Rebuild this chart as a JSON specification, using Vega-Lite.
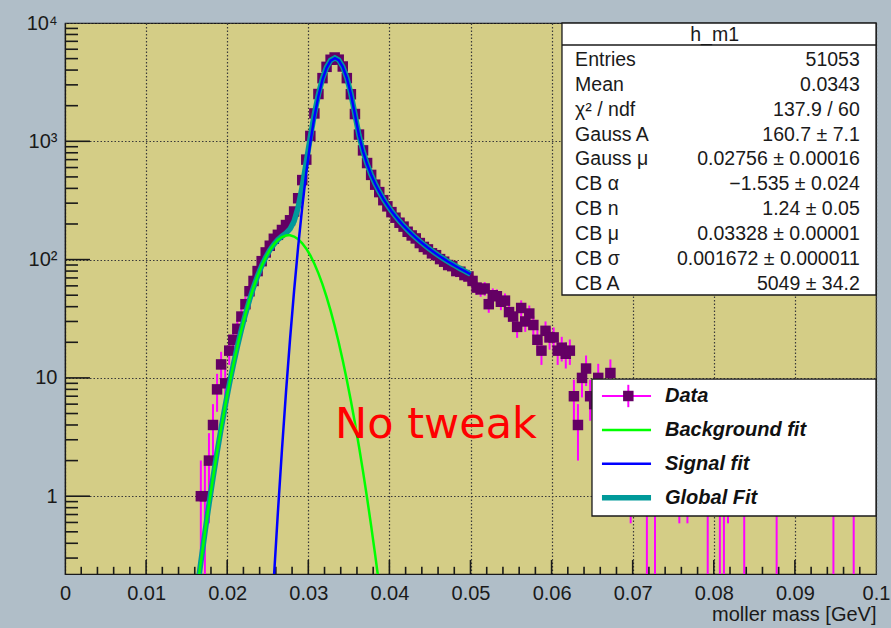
{
  "$schema": "https://vega.github.io/schema/vega-lite/v6.json",
  "width": 811,
  "height": 551,
  "autosize": {"type": "none"},
  "padding": {"left": 65, "top": 23, "right": 15, "bottom": 54},
  "background": "#b0bec8",
  "config": {
    "view": {"fill": "#d4cd86", "stroke": "#1a1a1a", "strokeWidth": 1.2},
    "font": "Liberation Sans"
  },
  "datasets": {
    "hist": [
      {"x":0.01675,"n":1,"lo":0.001,"hi":2},{"x":0.01725,"n":1,"lo":0.001,"hi":2},{"x":0.01775,"n":2,"lo":0.59,"hi":3.41},
      {"x":0.01825,"n":4,"lo":2,"hi":6},{"x":0.01875,"n":8,"lo":5.17,"hi":10.83},{"x":0.01925,"n":13,"lo":9.39,"hi":16.61},
      {"x":0.01975,"n":9,"lo":6,"hi":12},{"x":0.02025,"n":17,"lo":12.88,"hi":21.12},{"x":0.02075,"n":21,"lo":16.42,"hi":25.58},
      {"x":0.02125,"n":26,"lo":20.9,"hi":31.1},{"x":0.02175,"n":33,"lo":27.26,"hi":38.74},{"x":0.02225,"n":42,"lo":35.52,"hi":48.48},
      {"x":0.02275,"n":54,"lo":46.65,"hi":61.35},{"x":0.02325,"n":66,"lo":57.88,"hi":74.12},{"x":0.02375,"n":80,"lo":71.06,"hi":88.94},
      {"x":0.02425,"n":97,"lo":87.15,"hi":106.85},{"x":0.02475,"n":115,"lo":104.28,"hi":125.72},{"x":0.02525,"n":131,"lo":119.55,"hi":142.45},
      {"x":0.02575,"n":150,"lo":137.75,"hi":162.25},{"x":0.02625,"n":162,"lo":149.27,"hi":174.73},{"x":0.02675,"n":178,"lo":164.66,"hi":191.34},
      {"x":0.02725,"n":196,"lo":182,"hi":210},{"x":0.02775,"n":215,"lo":200.34,"hi":229.66},{"x":0.02825,"n":255,"lo":239.03,"hi":270.97},
      {"x":0.02875,"n":330,"lo":311.83,"hi":348.17},{"x":0.02925,"n":470,"lo":448.32,"hi":491.68},{"x":0.02975,"n":700,"lo":673.54,"hi":726.46},
      {"x":0.03025,"n":1110,"lo":1076.7,"hi":1143.3},{"x":0.03075,"n":1720,"lo":1678.5,"hi":1761.5},{"x":0.03125,"n":2510,"lo":2459.9,"hi":2560.1},
      {"x":0.03175,"n":3420,"lo":3361.5,"hi":3478.5},{"x":0.03225,"n":4260,"lo":4194.7,"hi":4325.3},{"x":0.03275,"n":4890,"lo":4820.1,"hi":4959.9},
      {"x":0.03325,"n":5110,"lo":5038.5,"hi":5181.5},{"x":0.03375,"n":4900,"lo":4830,"hi":4970},{"x":0.03425,"n":4290,"lo":4224.5,"hi":4355.5},
      {"x":0.03475,"n":3420,"lo":3361.5,"hi":3478.5},{"x":0.03525,"n":2500,"lo":2450,"hi":2550},{"x":0.03575,"n":1700,"lo":1658.8,"hi":1741.2},
      {"x":0.03625,"n":1140,"lo":1106.2,"hi":1173.8},{"x":0.03675,"n":838,"lo":809.05,"hi":866.95},{"x":0.03725,"n":655,"lo":629.41,"hi":680.59},
      {"x":0.03775,"n":520,"lo":497.2,"hi":542.8},{"x":0.03825,"n":430,"lo":409.26,"hi":450.74},{"x":0.03875,"n":372,"lo":352.71,"hi":391.29},
      {"x":0.03925,"n":318,"lo":300.17,"hi":335.83},{"x":0.03975,"n":282,"lo":265.21,"hi":298.79},{"x":0.04025,"n":252,"lo":236.13,"hi":267.87},
      {"x":0.04075,"n":226,"lo":210.97,"hi":241.03},{"x":0.04125,"n":205,"lo":190.68,"hi":219.32},{"x":0.04175,"n":190,"lo":176.22,"hi":203.78},
      {"x":0.04225,"n":172,"lo":158.89,"hi":185.11},{"x":0.04275,"n":160,"lo":147.35,"hi":172.65},{"x":0.04325,"n":151,"lo":138.71,"hi":163.29},
      {"x":0.04375,"n":138,"lo":126.25,"hi":149.75},{"x":0.04425,"n":128,"lo":116.69,"hi":139.31},{"x":0.04475,"n":122,"lo":110.95,"hi":133.05},
      {"x":0.04525,"n":113,"lo":102.37,"hi":123.63},{"x":0.04575,"n":109,"lo":98.56,"hi":119.44},{"x":0.04625,"n":101,"lo":90.95,"hi":111.05},
      {"x":0.04675,"n":96,"lo":86.2,"hi":105.8},{"x":0.04725,"n":90,"lo":80.51,"hi":99.49},{"x":0.04775,"n":88,"lo":78.62,"hi":97.38},
      {"x":0.04825,"n":80,"lo":71.06,"hi":88.94},{"x":0.04875,"n":79,"lo":70.11,"hi":87.89},{"x":0.04925,"n":74,"lo":65.4,"hi":82.6},
      {"x":0.04975,"n":72,"lo":63.51,"hi":80.49},{"x":0.05025,"n":66,"lo":57.88,"hi":74.12},{"x":0.05075,"n":58,"lo":50.38,"hi":65.62},
      {"x":0.05125,"n":56,"lo":48.52,"hi":63.48},{"x":0.05175,"n":57,"lo":49.45,"hi":64.55},{"x":0.05225,"n":42,"lo":35.52,"hi":48.48},
      {"x":0.05275,"n":50,"lo":42.93,"hi":57.07},{"x":0.05325,"n":49,"lo":42,"hi":56},{"x":0.05375,"n":44,"lo":37.37,"hi":50.63},
      {"x":0.05425,"n":45,"lo":38.29,"hi":51.71},{"x":0.05475,"n":36,"lo":30,"hi":42},{"x":0.05525,"n":33,"lo":27.26,"hi":38.74},
      {"x":0.05575,"n":27,"lo":21.8,"hi":32.2},{"x":0.05625,"n":39,"lo":32.76,"hi":45.24},{"x":0.05675,"n":30,"lo":24.52,"hi":35.48},
      {"x":0.05725,"n":35,"lo":29.08,"hi":40.92},{"x":0.05775,"n":28,"lo":22.71,"hi":33.29},{"x":0.05825,"n":21,"lo":16.42,"hi":25.58},
      {"x":0.05875,"n":17,"lo":12.88,"hi":21.12},{"x":0.05925,"n":25,"lo":20,"hi":30},{"x":0.05975,"n":22,"lo":17.31,"hi":26.69},
      {"x":0.06025,"n":22,"lo":17.31,"hi":26.69},{"x":0.06075,"n":17,"lo":12.88,"hi":21.12},{"x":0.06125,"n":18,"lo":13.76,"hi":22.24},
      {"x":0.06175,"n":16,"lo":12,"hi":20},{"x":0.06225,"n":17,"lo":12.88,"hi":21.12},{"x":0.06275,"n":7,"lo":4.35,"hi":9.65},
      {"x":0.06325,"n":4,"lo":2,"hi":6},{"x":0.06375,"n":10,"lo":6.84,"hi":13.16},{"x":0.06425,"n":12,"lo":8.54,"hi":15.46},
      {"x":0.06475,"n":7,"lo":4.35,"hi":9.65},{"x":0.06525,"n":6,"lo":3.55,"hi":8.45},{"x":0.06575,"n":10,"lo":6.84,"hi":13.16},
      {"x":0.06625,"n":6,"lo":3.55,"hi":8.45},{"x":0.06675,"n":5,"lo":2.76,"hi":7.24},{"x":0.06725,"n":11,"lo":7.68,"hi":14.32},
      {"x":0.06775,"n":4,"lo":2,"hi":6},{"x":0.06825,"n":3,"lo":1.27,"hi":4.73},{"x":0.06875,"n":5,"lo":2.76,"hi":7.24},
      {"x":0.06925,"n":7,"lo":4.35,"hi":9.65},{"x":0.06975,"n":2,"lo":0.59,"hi":3.41},{"x":0.07175,"n":1,"lo":0.001,"hi":2},
      {"x":0.07275,"n":1,"lo":0.001,"hi":2},{"x":0.07575,"n":2,"lo":0.59,"hi":3.41},{"x":0.07675,"n":2,"lo":0.59,"hi":3.41},
      {"x":0.07925,"n":1,"lo":0.001,"hi":2},{"x":0.08075,"n":1,"lo":0.001,"hi":2},{"x":0.08125,"n":1,"lo":0.001,"hi":2},
      {"x":0.08175,"n":2,"lo":0.59,"hi":3.41},{"x":0.08375,"n":1,"lo":0.001,"hi":2},{"x":0.08775,"n":1,"lo":0.001,"hi":2},
      {"x":0.09475,"n":1,"lo":0.001,"hi":2},{"x":0.09725,"n":1,"lo":0.001,"hi":2}
    ],
    "bkg": [
      {"x":0.01625,"y":0.152},{"x":0.01675,"y":0.277},{"x":0.01725,"y":0.491},{"x":0.01775,"y":0.85},{"x":0.01825,"y":1.431},
      {"x":0.01875,"y":2.343},{"x":0.01925,"y":3.738},{"x":0.01975,"y":5.797},{"x":0.02025,"y":8.744},{"x":0.02075,"y":12.85},
      {"x":0.02125,"y":18.37},{"x":0.02175,"y":25.55},{"x":0.02225,"y":34.59},{"x":0.02275,"y":45.57},{"x":0.02325,"y":58.41},
      {"x":0.02375,"y":72.89},{"x":0.02425,"y":88.5},{"x":0.02475,"y":104.5},{"x":0.02525,"y":120.2},{"x":0.02575,"y":134.4},
      {"x":0.02625,"y":146.4},{"x":0.02675,"y":155.1},{"x":0.02725,"y":159.9},{"x":0.02756,"y":160.7},{"x":0.02775,"y":160.4},
      {"x":0.02825,"y":156.6},{"x":0.02875,"y":148.8},{"x":0.02925,"y":137.5},{"x":0.02975,"y":123.8},{"x":0.03025,"y":108.4},
      {"x":0.03075,"y":92.3},{"x":0.03125,"y":76.5},{"x":0.03175,"y":61.8},{"x":0.03225,"y":48.5},{"x":0.03275,"y":37.06},
      {"x":0.03325,"y":27.56},{"x":0.03375,"y":19.94},{"x":0.03425,"y":14.04},{"x":0.03475,"y":9.61},{"x":0.03525,"y":6.41},
      {"x":0.03575,"y":4.164},{"x":0.03625,"y":2.629},{"x":0.03675,"y":1.615},{"x":0.03725,"y":0.966},{"x":0.03775,"y":0.562},
      {"x":0.03825,"y":0.318},{"x":0.03875,"y":0.175}
    ],
    "sig": [
      {"x":0.02525,"y":0.0495},{"x":0.02575,"y":0.199},{"x":0.02625,"y":0.73},{"x":0.02675,"y":2.46},{"x":0.02725,"y":7.57},
      {"x":0.02775,"y":21.27},{"x":0.02825,"y":54.7},{"x":0.02875,"y":128.6},{"x":0.02925,"y":276.5},{"x":0.02975,"y":543.6},
      {"x":0.03025,"y":977.5},{"x":0.03075,"y":1607},{"x":0.03125,"y":2416},{"x":0.03175,"y":3322},{"x":0.03225,"y":4176},
      {"x":0.03275,"y":4802},{"x":0.03328,"y":5049},{"x":0.03375,"y":4853},{"x":0.03425,"y":4267},{"x":0.03475,"y":3430},
      {"x":0.03525,"y":2522},{"x":0.03575,"y":1696},{"x":0.03585,"y":1554},{"x":0.03625,"y":1124},{"x":0.03675,"y":823.6},
      {"x":0.03725,"y":642.4},{"x":0.03775,"y":522.4},{"x":0.03825,"y":437.6},{"x":0.03875,"y":374.7},{"x":0.03925,"y":326.5},
      {"x":0.03975,"y":288.5},{"x":0.04025,"y":257.7},{"x":0.04075,"y":232.4},{"x":0.04125,"y":211.3},{"x":0.04175,"y":193.4},
      {"x":0.04225,"y":178},{"x":0.04275,"y":164.7},{"x":0.04325,"y":153.2},{"x":0.04375,"y":142.9},{"x":0.04425,"y":134},
      {"x":0.04475,"y":125.9},{"x":0.04525,"y":118.7},{"x":0.04575,"y":112.2},{"x":0.04625,"y":106.3},{"x":0.04675,"y":100.9},
      {"x":0.04725,"y":96},{"x":0.04775,"y":91.6},{"x":0.04825,"y":87.5},{"x":0.04875,"y":83.7},{"x":0.04925,"y":80.2},
      {"x":0.04975,"y":76.9},{"x":0.05,"y":75.4}
    ],
    "glob": [
      {"x":0.01625,"y":0.152},{"x":0.01675,"y":0.277},{"x":0.01725,"y":0.491},{"x":0.01775,"y":0.85},{"x":0.01825,"y":1.431},
      {"x":0.01875,"y":2.343},{"x":0.01925,"y":3.738},{"x":0.01975,"y":5.797},{"x":0.02025,"y":8.744},{"x":0.02075,"y":12.85},
      {"x":0.02125,"y":18.37},{"x":0.02175,"y":25.55},{"x":0.02225,"y":34.59},{"x":0.02275,"y":45.57},{"x":0.02325,"y":58.41},
      {"x":0.02375,"y":72.89},{"x":0.02425,"y":88.5},{"x":0.02475,"y":104.5},{"x":0.02525,"y":120.2},{"x":0.02575,"y":134.6},
      {"x":0.02625,"y":147.1},{"x":0.02675,"y":157.6},{"x":0.02725,"y":167.5},{"x":0.02775,"y":181.7},{"x":0.02825,"y":211.3},
      {"x":0.02875,"y":277.4},{"x":0.02925,"y":414},{"x":0.02975,"y":667.4},{"x":0.03025,"y":1086},{"x":0.03075,"y":1699},
      {"x":0.03125,"y":2492},{"x":0.03175,"y":3384},{"x":0.03225,"y":4225},{"x":0.03275,"y":4839},{"x":0.03328,"y":5075},
      {"x":0.03375,"y":4873},{"x":0.03425,"y":4281},{"x":0.03475,"y":3440},{"x":0.03525,"y":2528},{"x":0.03575,"y":1700},
      {"x":0.03585,"y":1558},{"x":0.03625,"y":1127},{"x":0.03675,"y":825.2},{"x":0.03725,"y":643.4},{"x":0.03775,"y":523},
      {"x":0.03825,"y":437.9},{"x":0.03875,"y":374.9},{"x":0.03925,"y":326.6},{"x":0.03975,"y":288.5},{"x":0.04025,"y":257.7},
      {"x":0.04075,"y":232.4},{"x":0.04125,"y":211.3},{"x":0.04175,"y":193.4},{"x":0.04225,"y":178},{"x":0.04275,"y":164.7},
      {"x":0.04325,"y":153.2},{"x":0.04375,"y":142.9},{"x":0.04425,"y":134},{"x":0.04475,"y":125.9},{"x":0.04525,"y":118.7},
      {"x":0.04575,"y":112.2},{"x":0.04625,"y":106.3},{"x":0.04675,"y":100.9},{"x":0.04725,"y":96},{"x":0.04775,"y":91.6},
      {"x":0.04825,"y":87.5},{"x":0.04875,"y":83.7},{"x":0.04925,"y":80.2},{"x":0.04975,"y":76.9},{"x":0.05,"y":75.4}
    ],
    "xticks": [
      {"v":0.01,"major":1},{"v":0.02,"major":1},{"v":0.03,"major":1},{"v":0.04,"major":1},{"v":0.05,"major":1},
      {"v":0.06,"major":1},{"v":0.07,"major":1},{"v":0.08,"major":1},{"v":0.09,"major":1},
      {"v":0.002,"major":0},{"v":0.004,"major":0},{"v":0.006,"major":0},{"v":0.008,"major":0},
      {"v":0.012,"major":0},{"v":0.014,"major":0},{"v":0.016,"major":0},{"v":0.018,"major":0},
      {"v":0.022,"major":0},{"v":0.024,"major":0},{"v":0.026,"major":0},{"v":0.028,"major":0},
      {"v":0.032,"major":0},{"v":0.034,"major":0},{"v":0.036,"major":0},{"v":0.038,"major":0},
      {"v":0.042,"major":0},{"v":0.044,"major":0},{"v":0.046,"major":0},{"v":0.048,"major":0},
      {"v":0.052,"major":0},{"v":0.054,"major":0},{"v":0.056,"major":0},{"v":0.058,"major":0},
      {"v":0.062,"major":0},{"v":0.064,"major":0},{"v":0.066,"major":0},{"v":0.068,"major":0},
      {"v":0.072,"major":0},{"v":0.074,"major":0},{"v":0.076,"major":0},{"v":0.078,"major":0},
      {"v":0.082,"major":0},{"v":0.084,"major":0},{"v":0.086,"major":0},{"v":0.088,"major":0},
      {"v":0.092,"major":0},{"v":0.094,"major":0},{"v":0.096,"major":0},{"v":0.098,"major":0}
    ],
    "yticks": [
      {"v":1,"major":1},{"v":10,"major":1},{"v":100,"major":1},{"v":1000,"major":1},
      {"v":0.3,"major":0},{"v":0.4,"major":0},{"v":0.5,"major":0},{"v":0.6,"major":0},{"v":0.7,"major":0},{"v":0.8,"major":0},{"v":0.9,"major":0},
      {"v":2,"major":0},{"v":3,"major":0},{"v":4,"major":0},{"v":5,"major":0},{"v":6,"major":0},{"v":7,"major":0},{"v":8,"major":0},{"v":9,"major":0},
      {"v":20,"major":0},{"v":30,"major":0},{"v":40,"major":0},{"v":50,"major":0},{"v":60,"major":0},{"v":70,"major":0},{"v":80,"major":0},{"v":90,"major":0},
      {"v":200,"major":0},{"v":300,"major":0},{"v":400,"major":0},{"v":500,"major":0},{"v":600,"major":0},{"v":700,"major":0},{"v":800,"major":0},{"v":900,"major":0},
      {"v":2000,"major":0},{"v":3000,"major":0},{"v":4000,"major":0},{"v":5000,"major":0},{"v":6000,"major":0},{"v":7000,"major":0},{"v":8000,"major":0},{"v":9000,"major":0}
    ],
    "stats": [
      {"row":0,"label":"h_m1","value":""},
      {"row":1,"label":"Entries","value":"51053"},
      {"row":2,"label":"Mean","value":"0.0343"},
      {"row":3,"label":"χ² / ndf","value":"137.9 / 60"},
      {"row":4,"label":"Gauss A","value":"160.7 ± 7.1"},
      {"row":5,"label":"Gauss μ","value":"0.02756 ± 0.00016"},
      {"row":6,"label":"CB α","value":"−1.535 ± 0.024"},
      {"row":7,"label":"CB n","value":"1.24 ± 0.05"},
      {"row":8,"label":"CB μ","value":"0.03328 ± 0.00001"},
      {"row":9,"label":"CB σ","value":"0.001672 ± 0.000011"},
      {"row":10,"label":"CB A","value":"5049 ± 34.2"}
    ],
    "legend": [
      {"row":0,"label":"Data"},
      {"row":1,"label":"Background fit"},
      {"row":2,"label":"Signal fit"},
      {"row":3,"label":"Global Fit"}
    ]
  },
  "layer": [
    {
      "layer": [
        {
          "data": {"name": "hist"},
          "mark": {"type": "rule", "color": "#ff00ff", "strokeWidth": 2, "clip": true},
          "encoding": {
            "x": {
              "field": "x", "type": "quantitative",
              "scale": {"domain": [0, 0.1], "nice": false, "zero": false},
              "axis": {
                "values": [0, 0.01, 0.02, 0.03, 0.04, 0.05, 0.06, 0.07, 0.08, 0.09, 0.1],
                "format": "~g",
                "ticks": false,
                "domainColor": "#1a1a1a", "domainWidth": 1.2,
                "labelPadding": 9.5, "labelFontSize": 20, "labelColor": "#1a1a1a",
                "labelFlush": false, "labelOverlap": false,
                "grid": true, "gridDash": [1.5, 2], "gridColor": "#3a3a3a", "gridWidth": 1.2,
                "title": "moller mass [GeV]", "titleFontSize": 20, "titleFontWeight": "normal",
                "titleColor": "#1a1a1a", "titleAnchor": "end", "titleAlign": "right",
                "titleBaseline": "alphabetic", "titleY": 46
              }
            },
            "y": {
              "field": "lo", "type": "quantitative",
              "scale": {"type": "log", "domain": [0.22, 10000], "nice": false},
              "axis": {
                "values": [1, 10, 100, 1000, 10000],
                "labelExpr": "datum.value >= 9999 ? '10⁴' : datum.value >= 999 ? '10³' : datum.value >= 99 ? '10²' : datum.value >= 9 ? '10' : '1'",
                "ticks": false,
                "domainColor": "#1a1a1a", "domainWidth": 1.2,
                "labelPadding": 8, "labelFontSize": 20, "labelColor": "#1a1a1a",
                "labelOverlap": false, "labelFlush": false,
                "grid": true, "gridDash": [1.5, 2], "gridColor": "#3a3a3a", "gridWidth": 1.2,
                "title": null
              }
            },
            "y2": {"field": "hi"}
          }
        },
        {
          "data": {"name": "xticks"},
          "transform": [{"filter": "datum.major == 1"}],
          "mark": {"type": "rule", "color": "#1a1a1a", "strokeWidth": 1.6},
          "encoding": {
            "x": {"field": "v", "type": "quantitative"},
            "y": {"datum": 0.22, "type": "quantitative"},
            "y2": {"datum": 0.289}
          }
        },
        {
          "data": {"name": "xticks"},
          "transform": [{"filter": "datum.major == 0"}],
          "mark": {"type": "rule", "color": "#1a1a1a", "strokeWidth": 1.6},
          "encoding": {
            "x": {"field": "v", "type": "quantitative"},
            "y": {"datum": 0.22, "type": "quantitative"},
            "y2": {"datum": 0.253}
          }
        },
        {
          "data": {"name": "yticks"},
          "transform": [{"filter": "datum.major == 1"}],
          "mark": {"type": "rule", "color": "#1a1a1a", "strokeWidth": 1.6},
          "encoding": {
            "y": {"field": "v", "type": "quantitative"},
            "x": {"datum": 0, "type": "quantitative"},
            "x2": {"datum": 0.00308}
          }
        },
        {
          "data": {"name": "yticks"},
          "transform": [{"filter": "datum.major == 0"}],
          "mark": {"type": "rule", "color": "#1a1a1a", "strokeWidth": 1.6},
          "encoding": {
            "y": {"field": "v", "type": "quantitative"},
            "x": {"datum": 0, "type": "quantitative"},
            "x2": {"datum": 0.0016}
          }
        },
        {
          "data": {"name": "hist"},
          "mark": {"type": "point", "shape": "square", "filled": true, "size": 110, "color": "#640064", "opacity": 1},
          "encoding": {
            "x": {"field": "x", "type": "quantitative"},
            "y": {"field": "n", "type": "quantitative"}
          }
        },
        {
          "data": {"name": "glob"},
          "mark": {"type": "line", "color": "#009a9a", "strokeWidth": 5.5, "clip": true},
          "encoding": {
            "x": {"field": "x", "type": "quantitative"},
            "y": {"field": "y", "type": "quantitative"}
          }
        },
        {
          "data": {"name": "bkg"},
          "mark": {"type": "line", "color": "#00ff00", "strokeWidth": 2.5, "clip": true},
          "encoding": {
            "x": {"field": "x", "type": "quantitative"},
            "y": {"field": "y", "type": "quantitative"}
          }
        },
        {
          "data": {"name": "sig"},
          "mark": {"type": "line", "color": "#0000ff", "strokeWidth": 2.5, "clip": true},
          "encoding": {
            "x": {"field": "x", "type": "quantitative"},
            "y": {"field": "y", "type": "quantitative"}
          }
        },
        {
          "data": {"values": [{"note": "No tweak"}]},
          "mark": {"type": "text", "font": "DejaVu Sans", "fontSize": 43, "color": "#ff0000", "align": "center", "baseline": "middle"},
          "encoding": {
            "x": {"datum": 0.04575, "type": "quantitative"},
            "y": {"datum": 4, "type": "quantitative"},
            "text": {"field": "note"}
          }
        }
      ]
    },
    {
      "data": {"name": "stats"},
      "layer": [
        {
          "transform": [{"filter": "datum.row == 0"}],
          "mark": {"type": "rect", "fill": "#ffffff", "stroke": "#1a1a1a", "strokeWidth": 1.3},
          "encoding": {
            "x": {"datum": 0.06128, "type": "quantitative", "scale": {"domain": [0, 0.1], "nice": false, "zero": false}, "axis": null},
            "x2": {"datum": 0.1},
            "y": {"datum": -0.482, "type": "quantitative", "scale": {"domain": [-0.482, 21.647], "reverse": true, "nice": false, "zero": false}, "axis": null},
            "y2": {"datum": 10.442}
          }
        },
        {
          "transform": [{"filter": "datum.row == 0"}],
          "mark": {"type": "rule", "color": "#1a1a1a", "strokeWidth": 1.3},
          "encoding": {
            "x": {"datum": 0.06128, "type": "quantitative"},
            "x2": {"datum": 0.1},
            "y": {"datum": 0.402, "type": "quantitative"}
          }
        },
        {
          "transform": [{"filter": "datum.row == 0"}],
          "mark": {"type": "text", "align": "center", "baseline": "middle", "fontSize": 19.5, "color": "#1a1a1a"},
          "encoding": {
            "x": {"datum": 0.0801, "type": "quantitative"},
            "y": {"field": "row", "type": "quantitative"},
            "text": {"field": "label"}
          }
        },
        {
          "transform": [{"filter": "datum.row > 0"}],
          "mark": {"type": "text", "align": "left", "baseline": "middle", "fontSize": 19.5, "color": "#1a1a1a"},
          "encoding": {
            "x": {"datum": 0.0629, "type": "quantitative"},
            "y": {"field": "row", "type": "quantitative"},
            "text": {"field": "label"}
          }
        },
        {
          "transform": [{"filter": "datum.row > 0"}],
          "mark": {"type": "text", "align": "right", "baseline": "middle", "fontSize": 19.5, "color": "#1a1a1a"},
          "encoding": {
            "x": {"datum": 0.0980, "type": "quantitative"},
            "y": {"field": "row", "type": "quantitative"},
            "text": {"field": "value"}
          }
        }
      ]
    },
    {
      "data": {"name": "legend"},
      "layer": [
        {
          "transform": [{"filter": "datum.row == 0"}],
          "mark": {"type": "rect", "fill": "#ffffff", "stroke": "#1a1a1a", "strokeWidth": 1.3},
          "encoding": {
            "x": {"datum": 0.06498, "type": "quantitative", "scale": {"domain": [0, 0.1], "nice": false, "zero": false}, "axis": null},
            "x2": {"datum": 0.1},
            "y": {"datum": -0.5, "type": "quantitative", "scale": {"domain": [-11.003, 5.251], "reverse": true, "nice": false, "zero": false}, "axis": null},
            "y2": {"datum": 3.54}
          }
        },
        {
          "transform": [{"filter": "datum.row == 0"}],
          "mark": {"type": "rule", "color": "#ff00ff", "strokeWidth": 2},
          "encoding": {
            "x": {"datum": 0.06621, "type": "quantitative"},
            "x2": {"datum": 0.07226},
            "y": {"field": "row", "type": "quantitative"}
          }
        },
        {
          "transform": [{"filter": "datum.row == 0"}],
          "mark": {"type": "rule", "color": "#ff00ff", "strokeWidth": 2},
          "encoding": {
            "x": {"datum": 0.06946, "type": "quantitative"},
            "y": {"datum": -0.33, "type": "quantitative"},
            "y2": {"datum": 0.33}
          }
        },
        {
          "transform": [{"filter": "datum.row == 0"}],
          "mark": {"type": "point", "shape": "square", "filled": true, "size": 110, "color": "#640064", "opacity": 1},
          "encoding": {
            "x": {"datum": 0.06946, "type": "quantitative"},
            "y": {"field": "row", "type": "quantitative"}
          }
        },
        {
          "transform": [{"filter": "datum.row == 1"}],
          "mark": {"type": "rule", "color": "#00ff00", "strokeWidth": 2.5},
          "encoding": {
            "x": {"datum": 0.06621, "type": "quantitative"},
            "x2": {"datum": 0.07226},
            "y": {"field": "row", "type": "quantitative"}
          }
        },
        {
          "transform": [{"filter": "datum.row == 2"}],
          "mark": {"type": "rule", "color": "#0000ff", "strokeWidth": 2.5},
          "encoding": {
            "x": {"datum": 0.06621, "type": "quantitative"},
            "x2": {"datum": 0.07226},
            "y": {"field": "row", "type": "quantitative"}
          }
        },
        {
          "transform": [{"filter": "datum.row == 3"}],
          "mark": {"type": "rule", "color": "#009a9a", "strokeWidth": 5.5},
          "encoding": {
            "x": {"datum": 0.06621, "type": "quantitative"},
            "x2": {"datum": 0.07226},
            "y": {"field": "row", "type": "quantitative"}
          }
        },
        {
          "mark": {"type": "text", "align": "left", "baseline": "middle", "fontSize": 20, "fontStyle": "italic", "fontWeight": "bold", "color": "#111111"},
          "encoding": {
            "x": {"datum": 0.07398, "type": "quantitative"},
            "y": {"field": "row", "type": "quantitative"},
            "text": {"field": "label"}
          }
        }
      ]
    }
  ],
  "resolve": {
    "scale": {"x": "independent", "y": "independent"},
    "axis": {"x": "independent", "y": "independent"}
  }
}
